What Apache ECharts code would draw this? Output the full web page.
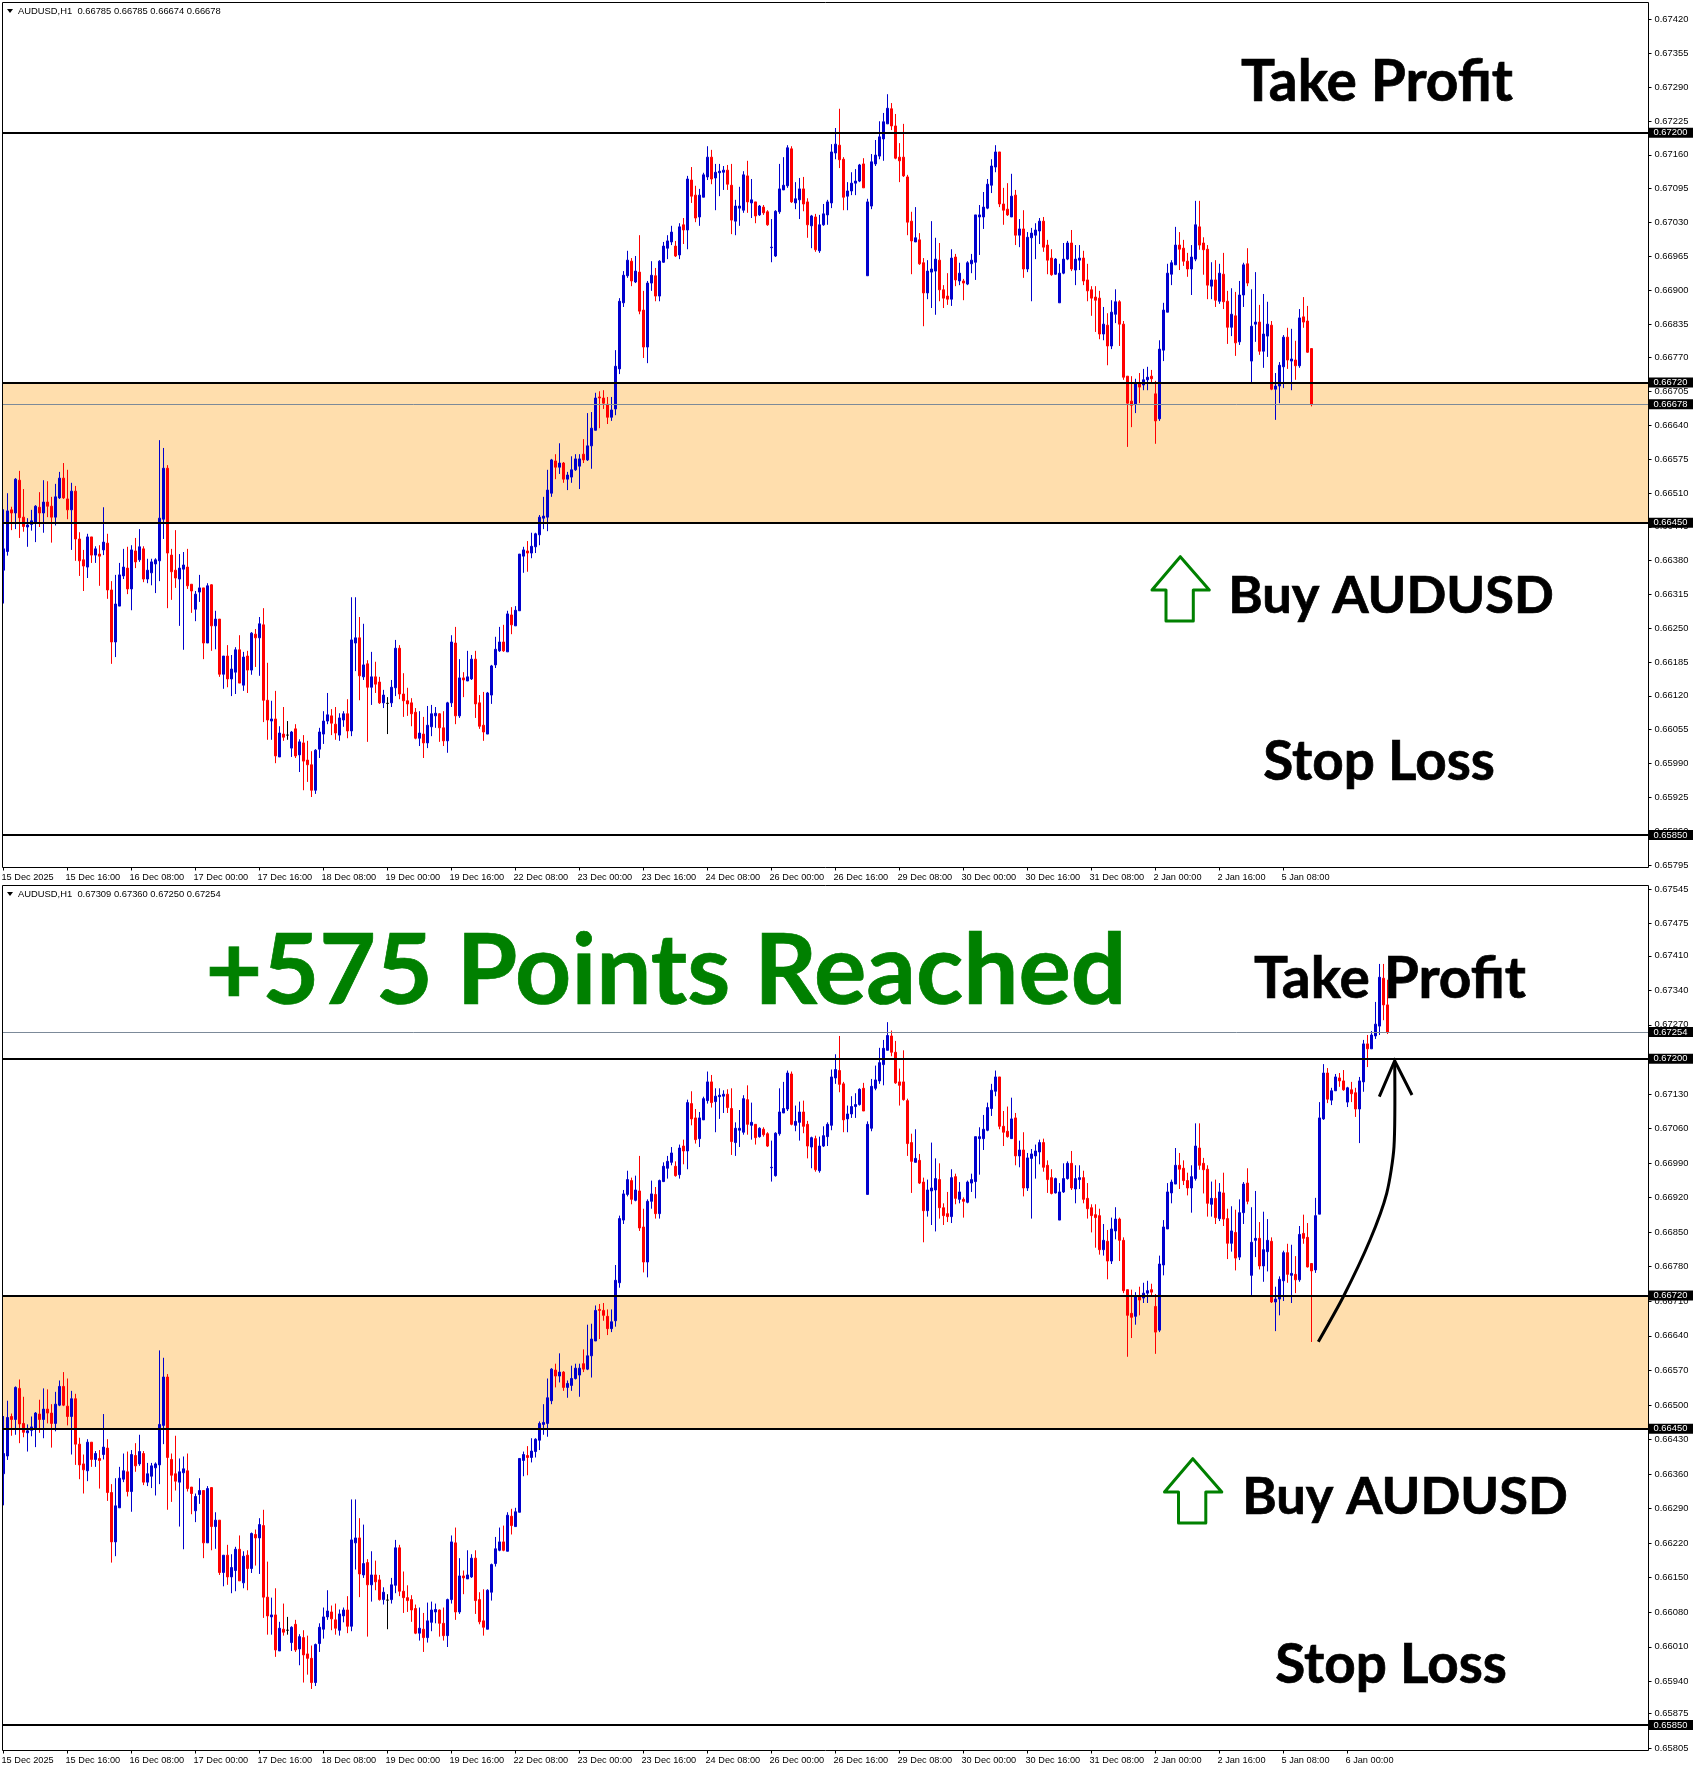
<!DOCTYPE html>
<html>
<head>
<meta charset="utf-8">
<title>AUDUSD H1</title>
<script src="https://cdn.jsdelivr.net/npm/echarts@6/dist/echarts.min.js"></script>
<style>
html,body{margin:0;padding:0;background:#fff}
#chart{width:1693px;height:1766px}
</style>
</head>
<body>
<div id="chart"></div>
<script>
// Hourly AUDUSD bars in points (1e-5), each row is [open, high, low, close].
const barsDec15 = [
[66359,66476,66295,66400],[66395,66507,66387,66473],[66475,66481,66436,66469],[66469,66536,66438,66534],[66532,66550,66421,66460],
[66461,66515,66433,66443],[66442,66459,66404,66446],[66447,66475,66435,66454],[66450,66484,66413,66482],[66480,66509,66442,66469],
[66469,66532,66431,66490],[66490,66530,66461,66482],[66482,66500,66412,66461],[66461,66525,66445,66500],[66498,66548,66496,66536],
[66536,66565,66496,66498],[66496,66552,66457,66475],[66475,66527,66398,66511],[66511,66521,66377,66419],[66419,66432,66348,66377],
[66379,66398,66319,66367],[66365,66429,66344,66423],[66423,66423,66373,66388],[66388,66405,66373,66400],[66390,66407,66329,66386],
[66398,66480,66388,66413],[66411,66429,66304,66321],[66321,66338,66179,66221],[66221,66350,66192,66294],[66290,66373,66290,66350],
[66348,66400,66342,66365],[66363,66404,66313,66323],[66323,66407,66282,66398],[66396,66421,66363,66375],[66379,66438,66375,66404],
[66400,66405,66336,66342],[66342,66381,66334,66359],[66354,66381,66330,66375],[66371,66382,66315,66379],[66377,66609,66338,66459],
[66457,66594,66419,66555],[66555,66561,66286,66392],[66388,66400,66302,66356],[66359,66436,66325,66344],[66342,66390,66252,66363],
[66361,66394,66206,66369],[66365,66400,66323,66329],[66332,66332,66277,66319],[66284,66319,66261,66313],[66317,66350,66298,66325],
[66325,66325,66188,66219],[66219,66334,66219,66329],[66331,66332,66204,66252],[66252,66281,66207,66265],[66265,66265,66154,66159],
[66159,66194,66131,66194],[66194,66215,66134,66150],[66150,66196,66117,66169],[66163,66211,66121,66206],[66206,66234,66142,66142],
[66138,66202,66127,66192],[66194,66204,66123,66167],[66167,66240,66158,66238],[66236,66246,66173,66229],[66229,66269,66156,66256],
[66254,66286,66067,66109],[66109,66181,66033,66071],[66069,66108,66033,66073],[66073,66127,65988,66002],[66000,66059,66000,66046],
[66044,66096,66031,66038],[66042,66069,66033,66042],[66017,66050,66000,66048],[66054,66063,65998,66002],[66004,66034,65971,66029],
[66027,66042,65936,65992],[65994,66031,65952,65985],[65985,66011,65923,65936],[65936,66015,65929,66013],[66015,66056,65998,66048],
[66044,66088,66025,66069],[66069,66123,66063,66081],[66079,66092,66042,66065],[66063,66096,66033,66046],[66042,66084,66031,66075],
[66071,66088,66058,66083],[66083,66111,66036,66050],[66050,66307,66040,66225],[66219,66307,66165,66229],[66229,66269,66109,66156],
[66154,66256,66148,66177],[66179,66186,66029,66134],[66134,66202,66100,66154],[66154,66183,66123,66140],[66144,66154,66102,66104],
[66104,66129,66094,66119],[66103,66115,66044,66103],[66104,66148,66096,66134],[66133,66225,66117,66209],[66209,66215,66111,66121],
[66121,66161,66077,66108],[66108,66133,66079,66102],[66104,66113,66059,66083],[66086,66094,66034,66036],[66036,66088,66021,66046],
[66044,66077,65998,66027],[66027,66098,66017,66061],[66058,66100,66040,66083],[66079,66096,66056,66084],[66083,66084,66029,66056],
[66056,66088,66021,66031],[66031,66106,66008,66104],[66104,66234,66096,66221],[66219,66250,66063,66079],[66079,66188,66075,66152],
[66152,66163,66115,66148],[66146,66204,66146,66154],[66150,66196,66148,66188],[66188,66204,66075,66102],[66104,66119,66054,66059]
];
const barsDec22 = [
[66061,66125,66031,66048],[66044,66125,66044,66123],[66119,66177,66102,66175],[66177,66231,66171,66207],[66204,66250,66202,66221],
[66221,66254,66202,66204],[66202,66281,66202,66275],[66273,66288,66236,66254],[66252,66290,66252,66282],[66281,66390,66281,66390],
[66386,66404,66354,66398],[66396,66415,66356,66392],[66392,66431,66382,66405],[66404,66431,66392,66429],[66427,66465,66407,66461],
[66459,66500,66438,66463],[66461,66552,66434,66513],[66507,66573,66500,66571],[66569,66582,66534,66557],[66557,66603,66544,66565],
[66565,66567,66527,66534],[66534,66548,66513,66542],[66538,66578,66527,66552],[66552,66582,66550,66573],[66559,66582,66515,66573],
[66582,66611,66565,66571],[66571,66661,66569,66598],[66598,66663,66554,66632],[66628,66700,66628,66690],[66692,66703,66632,66690],
[66690,66705,66669,66680],[66678,66692,66640,66653],[66653,66692,66646,66667],[66669,66782,66657,66751],[66746,66882,66736,66876],
[66873,66934,66865,66926],[66925,66973,66921,66955],[66953,66959,66905,66915],[66913,66963,66911,66934],[66932,67003,66851,66857],
[66859,66896,66767,66788],[66788,66915,66757,66911],[66911,66953,66896,66926],[66925,66940,66876,66886],[66886,66955,66876,66953],
[66951,66990,66950,66982],[66978,67003,66957,66992],[66990,67021,66984,67009],[66982,66992,66961,66963],[66965,67026,66957,67019],
[67023,67036,66986,67013],[67013,67117,66976,67111],[67109,67134,67065,67078],[67080,67098,67028,67036],[67038,67092,67021,67080],
[67076,67123,67076,67119],[67115,67174,67109,67153],[67153,67167,67101,67111],[67113,67140,67051,67124],[67123,67140,67078,67126],
[67124,67136,67090,67128],[67128,67138,67090,67101],[67099,67140,67005,67032],[67030,67071,67003,67059],[67055,67096,67021,67059],
[67051,67126,67046,67119],[67117,67146,67046,67067],[67065,67111,67036,67071],[67067,67067,67026,67040],[67042,67061,67040,67059],
[67057,67061,67042,67046],[67048,67051,67021,67023],[66979,67034,66951,66980],[66963,67051,66961,67049],[67048,67140,67044,67092],
[67090,67153,67090,67099],[67098,67176,67094,67171],[67169,67174,67065,67067],[67065,67105,67053,67073],[67071,67113,67034,67092],
[67092,67115,67049,67063],[67067,67074,66998,67023],[67021,67042,66978,67040],[67038,67044,66971,66975],[66973,67042,66969,67023],
[67023,67063,67021,67044],[67042,67071,67023,67067],[67065,67178,67055,67163]
];
const barsDec29 = [
[67161,67209,67149,67178],[67176,67246,67132,67148],[67149,67153,67051,67076],[67078,67105,67051,67088],[67088,67124,67080,67103],
[67103,67130,67080,67107],[67107,67140,67105,67138],[67140,67151,67094,67094],[66925,67073,66925,67067],[67059,67159,67053,67144],
[67140,67186,67136,67157],[67155,67222,67149,67192],[67188,67238,67146,67221],[67217,67274,67217,67247],[67246,67257,67205,67213],
[67213,67236,67149,67151],[67153,67180,67105,67146],[67153,67217,67115,67117],[67115,67119,67003,67028],[67030,67048,66928,66992],
[66990,67057,66990,66998],[66994,67007,66946,66948],[66950,66959,66828,66892],[66892,66955,66880,66934],[66932,67030,66863,66938],
[66934,66998,66850,66957],[66955,66988,66876,66898],[66898,66907,66863,66882],[66886,66930,66869,66880],[66880,66976,66867,66959],
[66961,66967,66905,66917],[66915,66950,66907,66930],[66915,66919,66878,66911],[66909,66953,66907,66950],[66948,66967,66930,66955],
[66951,67042,66917,67042],[67038,67061,66965,67042],[67038,67086,67015,67057],[67055,67111,67053,67101],[67099,67149,67084,67136],
[67134,67176,67124,67163],[67163,67163,67057,67063],[67063,67094,67023,67051],[67053,67103,67040,67042],[67038,67121,67038,67078],
[67080,67090,66984,67003],[67003,67034,66980,67015],[67015,67051,66921,66938],[66938,67009,66932,66999],[66998,67017,66876,67007],
[67003,67026,66957,67013],[67011,67036,66986,67030],[67030,67038,66971,66980],[66984,66994,66928,66955],[66959,66976,66925,66927],
[66928,66959,66927,66957],[66873,66948,66873,66930],[66930,66988,66928,66957],[66957,66992,66955,66988],[66988,67013,66934,66938],
[66936,66984,66907,66957],[66955,66984,66936,66959],[66959,66973,66907,66915],[66917,66948,66876,66896],[66898,66905,66848,66882],
[66884,66905,66817,66878],[66882,66896,66803,66813],[66813,66865,66801,66832],[66830,66853,66753,66790],[66790,66878,66784,66855],
[66851,66899,66834,66875],[66875,66878,66790,66832],[66832,66838,66725,66730],[66732,66732,66596,66680],[66684,66732,66634,66676],
[66678,66727,66661,66719],[66719,66738,66680,66711],[66715,66746,66705,66725],[66725,66750,66705,66730],[66732,66744,66719,66727],
[66698,66723,66602,66646],[66650,66801,66646,66784],[66782,66873,66761,66859],[66855,66948,66855,66930],[66928,66955,66907,66950],
[66946,67019,66946,66984],[66984,67009,66936,66976],[66978,66994,66944,66953],[66953,66969,66923,66938],[66938,66984,66888,66961],
[66957,67069,66953,67023],[67019,67069,66975,66984],[66988,66999,66927,66975],[66976,66984,66880,66907],[66905,66951,66880,66917],
[66917,66955,66865,66878],[66876,66948,66871,66930],[66928,66969,66861,66875],[66876,66896,66794,66826],[66826,66901,66809,66851],
[66848,66894,66771,66796],[66798,66915,66792,66888],[66888,66950,66865,66946],[66948,66978,66905,66911]
];
const barsJan5 = [
[66761,66899,66719,66828],[66832,66932,66798,66836],[66836,66869,66773,66780],[66780,66890,66748,66813],[66809,66875,66769,66832],
[66830,66838,66705,66707],[66707,66738,66648,66713],[66713,66759,66680,66753],[66750,66811,66709,66807],[66807,66825,66746,66763],
[66761,66823,66705,66765],[66763,66800,66725,66752],[66752,66861,66748,66844],[66846,66884,66825,66836],[66838,66867,66777,66778]
];
// The signal snapshot ends on this still-forming bar.
const signalLastBar = [66785,66785,66674,66678];
// The same bar once it closed, and the move that followed.
const barsAfterSignal = [
[66785,66785,66626,66770],[66772,66918,66766,66882],[66885,67112,66885,67080],[67078,67189,67076,67171],[67171,67181,67110,67118],
[67116,67141,67106,67135],[67135,67169,67135,67163],[67161,67171,67143,67155],[67155,67177,67135,67137],[67112,67143,67102,67141],
[67137,67153,67112,67129],[67131,67141,67082,67098],[67098,67163,67029,67155],[67153,67238,67133,67230],[67230,67248,67183,67220],
[67220,67256,67220,67248],[67246,67315,67240,67270],[67266,67392,67248,67365],[67363,67392,67278,67309],[67309,67360,67250,67254]
];

const timeLabels = ['15 Dec 2025','15 Dec 16:00','16 Dec 08:00','17 Dec 00:00','17 Dec 16:00','18 Dec 08:00','19 Dec 00:00','19 Dec 16:00',
'22 Dec 08:00','23 Dec 00:00','23 Dec 16:00','24 Dec 08:00','26 Dec 00:00','26 Dec 16:00','29 Dec 08:00','30 Dec 00:00','30 Dec 16:00',
'31 Dec 08:00','2 Jan 00:00','2 Jan 16:00','5 Jan 08:00','6 Jan 00:00'];
const barsPerTimeLabel = 16;

const upperPriceTicks = [0.67420,0.67355,0.67290,0.67225,0.67160,0.67095,0.67030,0.66965,0.66900,0.66835,0.66770,0.66705,0.66640,0.66575,0.66510,0.66445,0.66380,0.66315,0.66250,0.66185,0.66120,0.66055,0.65990,0.65925,0.65860,0.65795];
const lowerPriceTicks = [0.67545,0.67475,0.67410,0.67340,0.67270,0.67130,0.67060,0.66990,0.66920,0.66850,0.66780,0.66710,0.66640,0.66570,0.66500,0.66430,0.66360,0.66290,0.66220,0.66150,0.66080,0.66010,0.65940,0.65875,0.65805];

const takeProfit = 0.67200;
const zoneTop = 0.66720;
const zoneBottom = 0.66450;
const stopLoss = 0.65850;
const upperLastPrice = 0.66678;
const lowerLastPrice = 0.67254;
const upperHeader = 'AUDUSD,H1  0.66785 0.66785 0.66674 0.66678';
const lowerHeader = 'AUDUSD,H1  0.67309 0.67360 0.67250 0.67254';

const sharedBars = [...barsDec15, ...barsDec22, ...barsDec29, ...barsJan5];
const upperBars = [...sharedBars, signalLastBar];
const lowerBars = [...sharedBars, ...barsAfterSignal];

const UP = '#0000CD', DOWN = '#FF0000', BLACK = '#000', ZONE = '#FFDEAD', LAST = '#7C8A99';
const AXIS_FONT = 'Liberation Sans';
const BIG_FONT = 'Lato';
const GREEN = '#008000';
const BARS_ACROSS = 411.75;

// MT4 rounds its scale labels, so each tick sits a hair under the price it prints.
function buildPanel(index, bars, ticks, tickShift, lastPrice, labelCount, top, yMin, yMax) {
  const tagLine = (value, color, width) => ({
    yAxis: value,
    lineStyle: {color, width, type: 'solid'},
    label: {
      show: true, position: 'end', distance: 0, formatter: value.toFixed(5),
      color: '#fff', backgroundColor: '#000', fontFamily: AXIS_FONT, fontSize: 9.4,
      lineHeight: 10, padding: [0, 6, 0, 5], align: 'left', verticalAlign: 'middle'
    }
  });
  const xTicks = timeLabels.slice(0, labelCount).map((_, k) => k * barsPerTimeLabel);
  return {
    grid: {left: 1.5, top, width: 1647, height: 865, containLabel: false, outerBoundsMode: 'none'},
    xAxis: {
      gridIndex: index, type: 'value', min: -0.5, max: BARS_ACROSS - 0.5,
      axisLine: {show: false, onZero: false}, splitLine: {show: false},
      axisTick: {show: true, length: 3, lineStyle: {color: BLACK}, customValues: xTicks},
      axisLabel: {
        show: true, customValues: xTicks, margin: 5, align: 'left', padding: [0, 0, 0, -2],
        color: BLACK, fontFamily: AXIS_FONT, fontSize: 9.2,
        formatter: v => timeLabels[Math.round(v / barsPerTimeLabel)] || ''
      }
    },
    yAxis: {
      gridIndex: index, type: 'value', position: 'right', scale: true, min: yMin, max: yMax,
      axisLine: {show: false, onZero: false}, splitLine: {show: false},
      axisTick: {show: true, length: 3, lineStyle: {color: BLACK}, customValues: ticks.map(t => t - tickShift)},
      axisLabel: {
        show: true, customValues: ticks.map(t => t - tickShift), margin: 6, align: 'left',
        color: BLACK, fontFamily: AXIS_FONT, fontSize: 9.4,
        formatter: v => (v + tickShift).toFixed(5)
      }
    },
    series: {
      type: 'candlestick', xAxisIndex: index, yAxisIndex: index, barWidth: 2,
      itemStyle: {
        color: UP, color0: DOWN, borderColor: UP, borderColor0: DOWN,
        borderColorDoji: BLACK, borderWidth: 1
      },
      // ECharts takes [x, open, close, low, high]; rows are kept as OHLC.
      data: bars.map((b, i) => [i, b[0] / 1e5, b[3] / 1e5, b[2] / 1e5, b[1] / 1e5]),
      markArea: {silent: true, itemStyle: {color: ZONE}, data: [[{yAxis: zoneTop}, {yAxis: zoneBottom}]]},
      markLine: {
        silent: true, symbol: 'none', animation: false, precision: 5,
        data: [
          tagLine(lastPrice, LAST, 1),
          tagLine(takeProfit, BLACK, 2),
          tagLine(zoneTop, BLACK, 2),
          tagLine(zoneBottom, BLACK, 2),
          tagLine(stopLoss, BLACK, 2)
        ]
      }
    }
  };
}

const upper = buildPanel(0, upperBars, upperPriceTicks, 0.000026, upperLastPrice, 21, 2.5, 0.657875, 0.674503);
const lower = buildPanel(1, lowerBars, lowerPriceTicks, 0.000015, lowerLastPrice, 22, 885.5, 0.657983, 0.675509);

const bigText = (text, x, y, size, fill) => ({
  type: 'text', z: 20, silent: true,
  style: {text, x, y, fill, stroke: fill, lineWidth: 0.7, font: `bold ${size}px "${BIG_FONT}"`, textAlign: 'center', textVerticalAlign: 'middle'}
});
const headerText = (text, y) => ({
  type: 'text', z: 20, silent: true,
  style: {text, x: 18, y, fill: BLACK, font: `9.4px "${AXIS_FONT}"`, textAlign: 'left', textVerticalAlign: 'middle'}
});
const headerMark = y => ({
  type: 'polygon', z: 20, silent: true,
  shape: {points: [[7, y - 2], [13, y - 2], [10, y + 2]]}, style: {fill: BLACK}
});
const frame = (y, h) => ({
  type: 'rect', z: 19, silent: true,
  shape: {x: 2.5, y, width: 1646, height: h}, style: {fill: 'none', stroke: BLACK, lineWidth: 1}
});
const leftMargin = (y, h) => ({
  type: 'rect', z: 18, silent: true, shape: {x: 0, y, width: 2, height: h}, style: {fill: '#fff'}
});
const buyArrow = (dx, dy) => ({
  type: 'polygon', z: 20, silent: true,
  shape: {points: [[1180.3,556.7],[1209.3,590],[1193.3,590],[1193.3,621],[1166,621],[1166,590],[1152,590]].map(p => [p[0] + dx, p[1] + dy])},
  style: {fill: 'none', stroke: GREEN, lineWidth: 3, lineJoin: 'round'}
});

const option = {
  animation: false,
  backgroundColor: '#fff',
  grid: [upper.grid, lower.grid],
  xAxis: [upper.xAxis, lower.xAxis],
  yAxis: [upper.yAxis, lower.yAxis],
  series: [upper.series, lower.series],
  graphic: [
    frame(2.5, 865), frame(885.5, 865),
    leftMargin(0, 870), leftMargin(883, 870),
    headerMark(11), headerText(upperHeader, 11),
    headerMark(894), headerText(lowerHeader, 894),
    bigText('Take Profit', 1377, 83, 56.8, BLACK),
    bigText('Buy AUDUSD', 1391, 596, 52.4, BLACK),
    bigText('Stop Loss', 1379, 762, 54.8, BLACK),
    bigText('Take Profit', 1390, 980, 56.8, BLACK),
    bigText('Buy AUDUSD', 1405, 1497, 52.4, BLACK),
    bigText('Stop Loss', 1391, 1665, 54.8, BLACK),
    bigText('+575 Points Reached', 666, 972, 98, GREEN),
    buyArrow(0, 0), buyArrow(12.5, 902),
    {
      type: 'polyline', z: 20, silent: true,
      shape: {smooth: 0.25, points: [[1318.3,1341.7],[1343.3,1296.7],[1370,1240],[1386.7,1193.3],[1394,1146.7],[1394.7,1061.7]]},
      style: {stroke: BLACK, lineWidth: 3, fill: 'none'}
    },
    {
      type: 'polyline', z: 20, silent: true,
      shape: {points: [[1379.3,1096.7],[1394.7,1060.7],[1412,1095]]},
      style: {stroke: BLACK, lineWidth: 3, fill: 'none'}
    }
  ]
};

echarts.init(document.getElementById('chart'), null, {renderer: 'canvas'}).setOption(option);
</script>
</body>
</html>
